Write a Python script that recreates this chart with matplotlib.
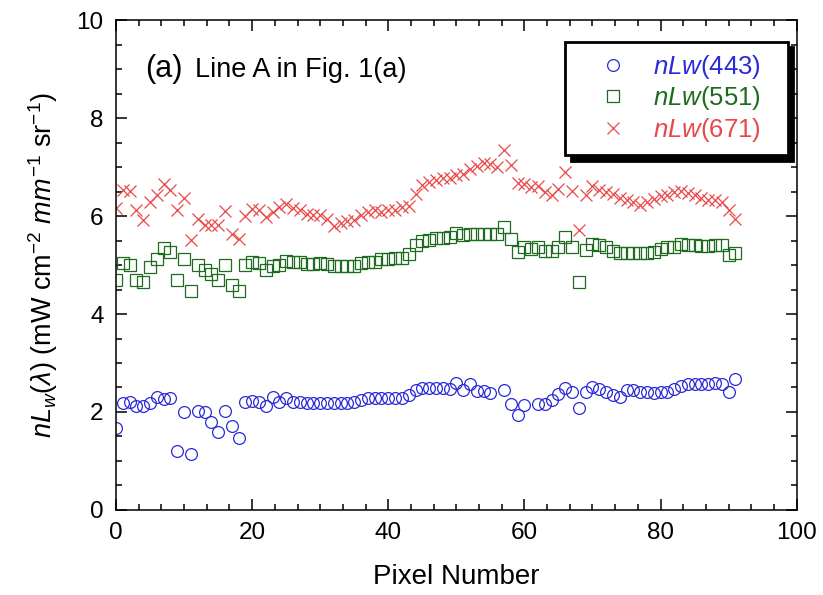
import numpy as np
import matplotlib
matplotlib.use('Agg')
import matplotlib.pyplot as plt
from matplotlib.ticker import MultipleLocator

plt.rcParams['font.family'] = ['Liberation Sans', 'DejaVu Sans']
plt.rcParams['mathtext.fontset'] = 'custom'
plt.rcParams['mathtext.rm'] = 'Liberation Sans'
plt.rcParams['mathtext.it'] = 'Liberation Sans:italic'

# pixel index along line A
pixel = np.arange(92)

# nLw(443) - NaN where no value was plotted
nlw443 = [1.67, 2.18, 2.21, 2.12, 2.12, 2.19, 2.30, 2.26, 2.28, 1.21,
          1.99, 1.14, 2.02, 1.99, 1.80, 1.60, 2.01, 1.71, 1.46, 2.20,
          2.23, 2.21, 2.12, 2.30, 2.21, 2.28, 2.21, 2.21, 2.19, 2.18,
          2.18, 2.19, 2.19, 2.19, 2.19, 2.20, 2.24, 2.29, 2.29, 2.29,
          2.29, 2.29, 2.28, 2.35, 2.45, 2.48, 2.48, 2.48, 2.48, 2.47,
          2.60, 2.45, 2.57, 2.43, 2.43, 2.39, np.nan, 2.45, 2.16, 1.94,
          2.14, np.nan, 2.16, 2.16, 2.24, 2.37, 2.48, 2.41, 2.09, 2.41,
          2.50, 2.46, 2.41, 2.35, 2.30, 2.45, 2.44, 2.41, 2.41, 2.39,
          2.41, 2.41, 2.46, 2.53, 2.57, 2.58, 2.57, 2.58, 2.60, 2.57,
          2.41, 2.67]

# nLw(551)
nlw551 = [4.69, 5.05, 5.00, 4.69, 4.66, 4.97, 5.12, 5.34, 5.27, 4.69,
          5.12, 4.47, 5.00, 4.90, 4.82, 4.69, 5.00, 4.59, 4.47, 5.00,
          5.07, 5.05, 4.90, 4.98, 5.00, 5.09, 5.07, 5.07, 5.03, 5.03,
          5.05, 5.03, 4.98, 4.98, 4.98, 4.98, 5.05, 5.07, 5.07, 5.12,
          5.12, 5.14, 5.14, 5.22, 5.42, 5.50, 5.52, 5.55, 5.56, 5.58,
          5.66, 5.62, 5.64, 5.64, 5.64, 5.64, 5.63, 5.78, 5.54, 5.27,
          5.36, 5.33, 5.36, 5.29, 5.29, 5.36, 5.58, 5.37, 4.66, 5.31,
          5.44, 5.42, 5.36, 5.29, 5.24, 5.25, 5.24, 5.24, 5.24, 5.27,
          5.32, 5.36, 5.37, 5.44, 5.42, 5.40, 5.39, 5.39, 5.40, 5.42,
          5.20, 5.25]

# nLw(671)
nlw671 = [6.16, 6.54, 6.51, 6.12, 5.93, 6.29, 6.43, 6.65, 6.54, 6.12,
          6.36, 5.51, 5.95, 5.82, 5.82, 5.82, 6.10, 5.63, 5.54, 6.00,
          6.14, 6.12, 5.99, 6.09, 6.18, 6.24, 6.16, 6.12, 6.05, 6.02,
          6.03, 5.95, 5.80, 5.86, 5.90, 5.93, 6.02, 6.09, 6.12, 6.09,
          6.12, 6.12, 6.18, 6.20, 6.46, 6.63, 6.70, 6.73, 6.77, 6.77,
          6.84, 6.87, 6.97, 7.02, 7.09, 7.07, 7.01, 7.35, 7.04, 6.68,
          6.65, 6.60, 6.61, 6.50, 6.43, 6.55, 6.90, 6.52, 5.71, 6.43,
          6.61, 6.54, 6.50, 6.46, 6.36, 6.33, 6.29, 6.22, 6.29, 6.34,
          6.41, 6.43, 6.50, 6.51, 6.48, 6.43, 6.36, 6.33, 6.33, 6.29,
          6.12, 5.95]

labels = [r'$nLw$(443)   ', r'$nLw$(551)   ', r'$nLw$(671)   ']
blue, green, red = '#2a2ad8', '#1d6b1d', '#e84848'

fig = plt.figure(figsize=(8.23, 5.95), dpi=100)
ax = fig.add_axes([0.141, 0.143, 0.827, 0.823])

ax.plot(pixel, nlw443, 'o', ms=8.5, mfc='none', mec=blue, mew=0.9, label=labels[0])
ax.plot(pixel, nlw551, 's', ms=8.0, mfc='none', mec=green, mew=0.9, label=labels[1])
ax.plot(pixel, nlw671, 'x', ms=8.0, color=red, mew=0.9, label=labels[2])

ax.set_xlim(0, 100)
ax.set_ylim(0, 10)
ax.xaxis.set_major_locator(MultipleLocator(20))
ax.xaxis.set_minor_locator(MultipleLocator(20 / 6))
ax.yaxis.set_major_locator(MultipleLocator(2))
ax.yaxis.set_minor_locator(MultipleLocator(0.5))
ax.tick_params(which='both', direction='in', top=True, right=True, width=1.1)
ax.tick_params(which='major', length=8, labelsize=17.5, pad=9)
ax.tick_params(which='minor', length=4)
for s in ax.spines.values():
    s.set_linewidth(1.1)

ax.set_xlabel('Pixel Number', fontsize=20, labelpad=14)
ax.set_ylabel(r'$nL_w$($\lambda$) (mW cm$^{-2}$ $mm^{-1}$ sr$^{-1}$)', fontsize=19.5, labelpad=12)

ax.text(0.043, 0.885, '(a)', transform=ax.transAxes, fontsize=22, va='baseline')
ax.text(0.116, 0.885, 'Line A in Fig. 1(a)', transform=ax.transAxes, fontsize=19.5, va='baseline')

leg = ax.legend(loc='upper right', bbox_to_anchor=(0.987, 0.956), fontsize=18.5,
                frameon=True, fancybox=False, handletextpad=0.15,
                borderpad=0.45, labelspacing=0.12, handlelength=2.8,
                borderaxespad=0,
                shadow={'color': 'black', 'alpha': 1, 'ox': 4, 'oy': -4})
leg.get_frame().set_edgecolor('black')
leg.get_frame().set_linewidth(2)
for t, c in zip(leg.get_texts(), [blue, green, red]):
    t.set_color(c)

fig.savefig('out.png', dpi=100)
